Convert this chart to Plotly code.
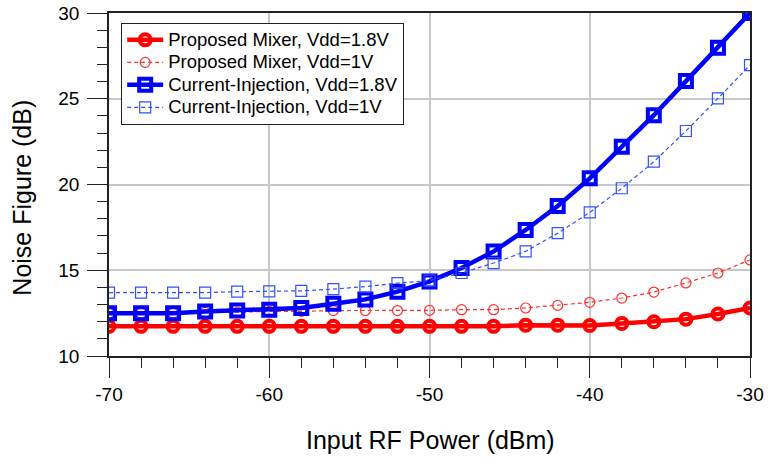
import plotly.graph_objects as go

# Input RF power sweep (dBm)
rf_power = [-70, -68, -66, -64, -62, -60, -58, -56, -54, -52, -50,
            -48, -46, -44, -42, -40, -38, -36, -34, -32, -30]

# Noise figure (dB) for each configuration
nf_proposed_18 = [11.73, 11.73, 11.73, 11.73, 11.73, 11.73, 11.73, 11.73, 11.73, 11.73, 11.73,
                  11.73, 11.73, 11.8, 11.8, 11.78, 11.9, 12.0, 12.15, 12.45, 12.8]
nf_proposed_1 = [12.5, 12.5, 12.5, 12.55, 12.55, 12.6, 12.6, 12.65, 12.65, 12.65, 12.66,
                 12.7, 12.7, 12.8, 12.95, 13.13, 13.38, 13.73, 14.26, 14.84, 15.6]
nf_ci_18 = [12.5, 12.5, 12.5, 12.6, 12.65, 12.7, 12.8, 13.05, 13.3, 13.75, 14.35,
            15.13, 16.1, 17.35, 18.75, 20.36, 22.2, 24.04, 26.03, 27.98, 30.0]
nf_ci_1 = [13.7, 13.7, 13.7, 13.7, 13.75, 13.77, 13.8, 13.9, 14.05, 14.25, 14.4,
           14.84, 15.42, 16.1, 17.16, 18.37, 19.78, 21.33, 23.12, 25.02, 26.96]

series_names = ["Proposed Mixer, Vdd=1.8V", "Proposed Mixer, Vdd=1V",
                "Current-Injection, Vdd=1.8V", "Current-Injection, Vdd=1V"]

# Axis tick positions and their labels (plain hyphen for negatives)
x_ticks = [-70, -60, -50, -40, -30]
x_tick_labels = ["-70", "-60", "-50", "-40", "-30"]
y_ticks = [10, 15, 20, 25, 30]
y_tick_labels = ["10", "15", "20", "25", "30"]

FONT = "Liberation Sans, Arial, sans-serif"


def legend_label(text):
    # larger glyphs inside a compact legend row
    return f'<span style="font-size:18.5px">{text}</span>'


fig = go.Figure()

fig.add_trace(go.Scatter(
    x=rf_power, y=nf_proposed_18, name=legend_label(series_names[0]), mode="lines+markers",
    line=dict(color="#ff0000", width=4.5),
    marker=dict(symbol="circle-open", size=11, color="#ff0000",
                line=dict(color="#ff0000", width=4)),
))
fig.add_trace(go.Scatter(
    x=rf_power, y=nf_proposed_1, name=legend_label(series_names[1]), mode="lines+markers",
    line=dict(color="#ff3030", width=1.2, dash="4px,3px"),
    marker=dict(symbol="circle-open", size=10, color="#ff3030",
                line=dict(color="#ff3030", width=1.2)),
))
fig.add_trace(go.Scatter(
    x=rf_power, y=nf_ci_18, name=legend_label(series_names[2]), mode="lines+markers",
    line=dict(color="#0000ff", width=4.5),
    marker=dict(symbol="square-open", size=12, color="#0000ff",
                line=dict(color="#0000ff", width=4)),
))
fig.add_trace(go.Scatter(
    x=rf_power, y=nf_ci_1, name=legend_label(series_names[3]), mode="lines+markers",
    line=dict(color="#3050ff", width=1.2, dash="4px,3px"),
    marker=dict(symbol="square-open", size=11, color="#3050ff",
                line=dict(color="#3050ff", width=1.2)),
))

axis_common = dict(
    showline=True, linecolor="#222222", linewidth=1.5, mirror=True,
    ticks="outside", ticklen=20, tickwidth=1.3, tickcolor="#222222",
    showgrid=True, gridcolor="#c8c8c8", gridwidth=1.5,
    zeroline=False, automargin=False,
    tickfont=dict(family=FONT, size=19, color="#000000"),
)

fig.update_xaxes(
    range=[-70, -30], tickmode="array", tickvals=x_ticks, ticktext=x_tick_labels,
    minor=dict(tickmode="linear", tick0=-70, dtick=2, ticklen=10, ticks="outside",
               tickcolor="#222222", tickwidth=1.3, showgrid=False),
    **axis_common,
)
fig.update_yaxes(
    range=[10, 30], tickmode="array", tickvals=y_ticks, ticktext=y_tick_labels,
    minor=dict(tickmode="linear", tick0=10, dtick=1, ticklen=10, ticks="outside",
               tickcolor="#222222", tickwidth=1.3, showgrid=False),
    ticklabelstandoff=4,
    **axis_common,
)

fig.update_layout(
    width=768, height=464,
    margin=dict(l=109, r=18, t=13, b=108, autoexpand=False),
    paper_bgcolor="white", plot_bgcolor="white",
    font=dict(family=FONT, color="#000000"),
    showlegend=True,
    legend=dict(
        x=0.019, y=0.972, xanchor="left", yanchor="top",
        bgcolor="white", bordercolor="#222222", borderwidth=1,
        font=dict(family=FONT, size=15, color="#000000"),
        tracegroupgap=0, itemwidth=36,
    ),
    annotations=[
        dict(text="Noise Figure (dB)", xref="paper", yref="paper",
             x=-0.135, y=0.463, xanchor="center", yanchor="middle",
             textangle=-90, showarrow=False,
             font=dict(family=FONT, size=25, color="#000000")),
        dict(text="Input RF Power (dBm)", xref="paper", yref="paper",
             x=0.5008, y=-0.245, xanchor="center", yanchor="middle",
             showarrow=False,
             font=dict(family=FONT, size=25, color="#000000")),
    ],
)

fig.write_html("out.html")
